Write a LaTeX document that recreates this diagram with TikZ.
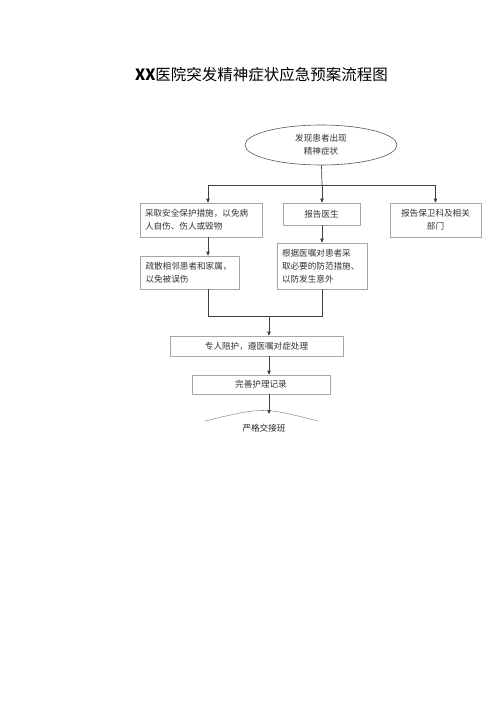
\documentclass[tikz,border=0pt]{standalone}
\usepackage{fontspec}
\setmainfont{Noto Sans CJK SC}
\newfontfamily\cjk{Noto Sans CJK SC}
\usepackage{tikz}
\usetikzlibrary{arrows.meta,calc,shapes.geometric}

\begin{document}
\begin{tikzpicture}[x=1pt,y=-1pt,
  box/.style={draw=black!35,line width=0.6pt,inner sep=0pt,text=black!80,font=\cjk\fontsize{8.6}{13}\selectfont},
  oval/.style={draw=black!65,line width=0.6pt,ellipse,inner sep=0pt,text=black!80,font=\cjk\fontsize{8.6}{13}\selectfont,align=center},
  line/.style={draw=black!75,line width=0.7pt},
  arr/.style={line,-{Triangle[length=4pt,width=3.5pt]}}]
\useasboundingbox[fill=white] (0,0) rectangle (500,707);
\node (title) at (261.5,75) {\fontsize{15.5}{18}\selectfont\textbf{XX}\cjk 医院突发精神症状应急预案流程图};
\node[oval,minimum width=152pt,minimum height=40pt] (start) at (321,145) {发现患者出现\\精神症状};
\node[box,minimum width=122pt,minimum height=34pt,align=left,text width=112pt] (b1) at (201,220) {采取安全保护措施，以免病\\人自伤、伤人或毁物};
\node[box,minimum width=77pt,minimum height=22pt] (b2) at (321.5,214) {报告医生};
\node[box,minimum width=91pt,minimum height=34pt,align=center] (b3) at (435.5,220) {报告保卫科及相关\\部门};
\node[box,minimum width=99pt,minimum height=33pt,align=left,text width=88pt] (b4) at (189.5,272.5) {疏散相邻患者和家属，\\以免被误伤};
\node[box,minimum width=90pt,minimum height=46pt,align=left,text width=80pt] (b5) at (322,266) {根据医嘱对患者采\\取必要的防范措施、\\以防发生意外};
\node[box,minimum width=173pt,minimum height=20pt] (b6) at (256.5,346) {专人陪护，遵医嘱对症处理};
\node[box,minimum width=138pt,minimum height=19pt] (b7) at (261,384.5) {完善护理记录};
\node[text=black!85,font=\cjk\fontsize{8.6}{13}\selectfont] (end) at (264,428) {严格交接班};
\coordinate (j0) at (322,185);
\coordinate (jl) at (208,185);
\coordinate (jr) at (435.5,185);
\coordinate (m) at (269,316);
\coordinate (top) at (269,414);
\draw[black!40,line width=0.6pt] (205,421) .. controls (263,407) .. (318,421);
\draw[line] (start) -- (j0);
\draw[line] (jl) -- (jr);
\draw[arr] (jl) -- (jl |- b1.north);
\draw[arr] (j0) -- (j0 |- b2.north);
\draw[arr] (jr) -- (b3.north);
\draw[arr] (b1.south -| jl) -- (b4.north -| jl);
\draw[arr] (b2.south -| j0) -- (b5.north -| j0);
\draw[line] (b4.south -| jl) -- (jl |- m) -- (j0 |- m) -- (b5.south -| j0);
\draw[arr] (m) -- (m |- b6.north);
\draw[arr] (m |- b6.south) -- (m |- b7.north);
\draw[arr] (m |- b7.south) -- (top);
\end{tikzpicture}
\end{document}
